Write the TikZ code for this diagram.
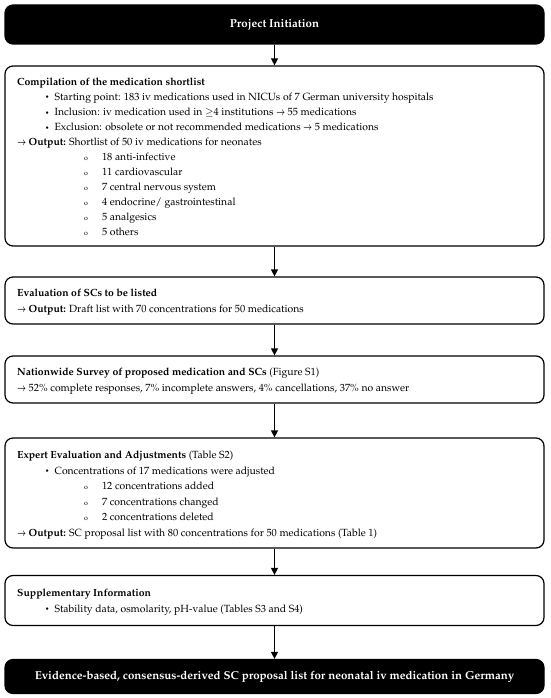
\documentclass[tikz,border=0pt]{standalone}
\usepackage[T1]{fontenc}
\usepackage{mathpazo}
\usepackage{graphicx}
\usetikzlibrary{arrows.meta}
\tikzset{
  box/.style={draw, line width=1.2pt, rounded corners=8pt, minimum width=539pt, inner sep=0pt},
  blackbox/.style={box, fill=black, text=white, font=\fontsize{11.5}{13}\selectfont\bfseries},
  ln/.style={anchor=base west, inner sep=0pt, font=\fontsize{10.4}{12}\selectfont},
  arr/.style={-{Triangle[length=7pt,width=7pt]}, line width=1.2pt},
}
\newcommand{\outarr}{\scalebox{0.7}[1]{\boldmath$\rightarrow$}\ }
\newcommand{\bul}{\raisebox{0.5pt}{\scriptsize\textbullet}}
\newcommand{\circb}{{\scriptsize o}}
\begin{document}
\begin{tikzpicture}[x=1pt,y=-1pt]
\useasboundingbox (0,0) rectangle (550,698);
% boxes
\node[blackbox, minimum height=39pt] (b1) at (274.5,24.5) {Project Initiation};
\node[box, minimum height=180pt] (b2) at (274.5,156) {};
\node[box, minimum height=47pt] (b3) at (274.5,300.5) {};
\node[box, minimum height=47pt] (b4) at (274.5,379.5) {};
\node[box, minimum height=110pt] (b5) at (274.5,493) {};
\node[box, minimum height=50pt] (b6) at (274.5,600.5) {};
\node[blackbox, minimum height=34pt] (b7) at (274.5,676.5) {Evidence-based, consensus-derived SC proposal list for neonatal iv medication in Germany};
% arrows
\draw[arr] (b1) -- (b2);
\draw[arr] (b2) -- (b3);
\draw[arr] (b3) -- (b4);
\draw[arr] (b4) -- (b5);
\draw[arr] (b5) -- (b6);
\draw[arr] (b6) -- (b7);
% box 2
\node[ln] (t2) at (17,85.5) {\textbf{Compilation of the medication shortlist}};
\node[ln] (t2a) at (45,100.5) {\bul\ \ Starting point: 183 iv medications used in NICUs of 7 German university hospitals};
\node[ln] (t2b) at (45,115.5) {\bul\ \ Inclusion: iv medication used in $\geq$4 institutions \outarr 55 medications};
\node[ln] (t2c) at (45,130.5) {\bul\ \ Exclusion: obsolete or not recommended medications \outarr 5 medications};
\node[ln] (t2d) at (17,145.5) {\outarr\textbf{Output:} Shortlist of 50 iv medications for neonates};
\node[ln] (t2e) at (84,160.5) {\circb\hspace{14pt}18 anti-infective};
\node[ln] (t2f) at (84,175.5) {\circb\hspace{14pt}11 cardiovascular};
\node[ln] (t2g) at (84,190.5) {\circb\hspace{14pt}7 central nervous system};
\node[ln] (t2h) at (84,205.5) {\circb\hspace{14pt}4 endocrine/ gastrointestinal};
\node[ln] (t2i) at (84,220.5) {\circb\hspace{14pt}5 analgesics};
\node[ln] (t2j) at (84,235.5) {\circb\hspace{14pt}5 others};
% box 3
\node[ln] (t3) at (17,296) {\textbf{Evaluation of SCs to be listed}};
\node[ln] (t3a) at (17,312) {\outarr\textbf{Output:} Draft list with 70 concentrations for 50 medications};
% box 4
\node[ln] (t4) at (17,375) {\textbf{Nationwide Survey of proposed medication and SCs} (Figure S1)};
\node[ln] (t4a) at (17,391) {\outarr 52\% complete responses, 7\% incomplete answers, 4\% cancellations, 37\% no answer};
% box 5
\node[ln] (t5) at (17,458.5) {\textbf{Expert Evaluation and Adjustments} (Table S2)};
\node[ln] (t5a) at (45,474) {\bul\ \ Concentrations of 17 medications were adjusted};
\node[ln] (t5b) at (84,489.5) {\circb\hspace{14pt}12 concentrations added};
\node[ln] (t5c) at (84,505) {\circb\hspace{14pt}7 concentrations changed};
\node[ln] (t5d) at (84,520.5) {\circb\hspace{14pt}2 concentrations deleted};
\node[ln] (t5e) at (17,536) {\outarr\textbf{Output:} SC proposal list with 80 concentrations for 50 medications (Table 1)};
% box 6
\node[ln] (t6) at (17,596) {\textbf{Supplementary Information}};
\node[ln] (t6a) at (45,612) {\bul\ \ Stability data, osmolarity, pH-value (Tables S3 and S4)};
\end{tikzpicture}
\end{document}
